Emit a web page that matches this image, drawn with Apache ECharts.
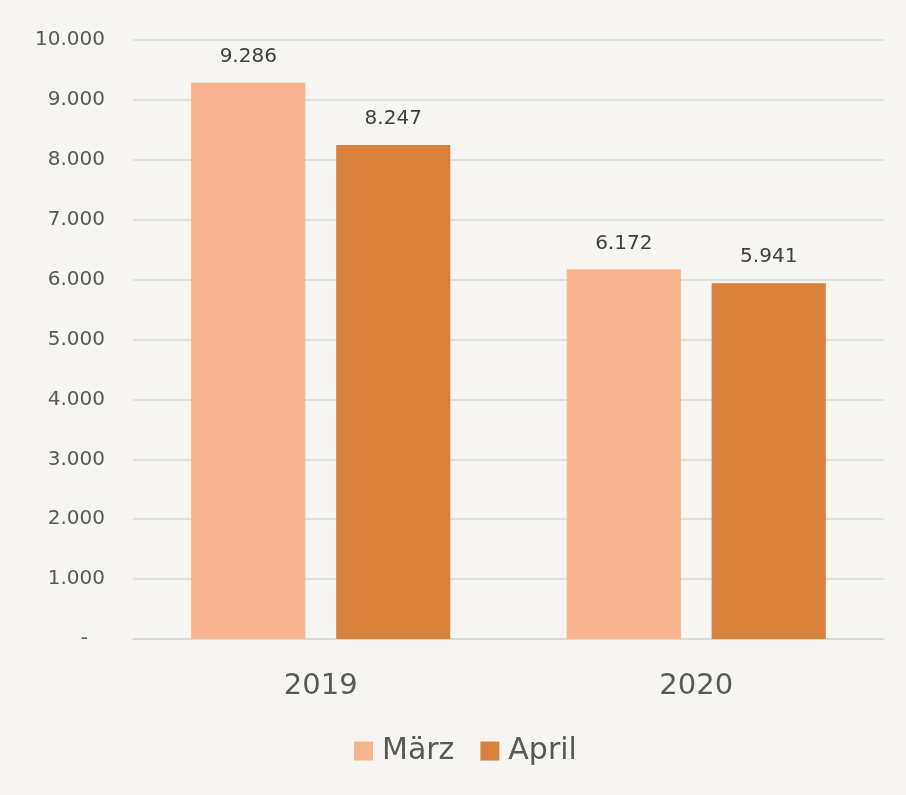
<!DOCTYPE html>
<html>
<head>
<meta charset="utf-8">
<script src="https://cdn.jsdelivr.net/npm/echarts@6/dist/echarts.min.js"></script>
<style>
  html, body { margin: 0; padding: 0; background: #f7f5f1; }
  #main { width: 906px; height: 795px; }
</style>
</head>
<body>
<div id="main"></div>
<script>
const years = ['2019', '2020'];
const maerz = [9286, 6172];
const april = [8247, 5941];
const seriesNames = ['März', 'April'];

const fmt = (v) => String(v).replace(/\B(?=(\d{3})+(?!\d))/g, '.');
// accounting style: zero shows as a dash, set in from the right
const axisFmt = (v) => (v === 0 ? '{d|-}' : fmt(v));

const font = 'DejaVu Sans';
const chart = echarts.init(document.getElementById('main'));
chart.setOption({
  backgroundColor: '#f7f5f1',
  textStyle: { fontFamily: font },
  grid: { left: 133, right: 22, top: 40, bottom: 156 },
  legend: {
    data: seriesNames,
    top: 736,
    left: 354,
    padding: 0,
    itemWidth: 19,
    itemHeight: 19,
    itemGap: 26,
    icon: 'rect',
    textStyle: { fontSize: 30, color: '#595959', fontFamily: font, padding: [0, 0, 0, 4] }
  },
  xAxis: {
    type: 'category',
    data: years,
    axisTick: { show: false },
    axisLine: { lineStyle: { color: '#d9d9d9', width: 1.5 } },
    axisLabel: { fontSize: 29, color: '#595959', margin: 33, fontFamily: font }
  },
  yAxis: {
    type: 'value',
    min: 0,
    max: 10000,
    interval: 1000,
    axisLine: { show: false },
    axisTick: { show: false },
    splitLine: { lineStyle: { color: '#d9d9d9', width: 1.5 } },
    axisLabel: {
      fontSize: 20, color: '#595959', margin: 28, formatter: axisFmt, fontFamily: font,
      rich: { d: { fontSize: 20, color: '#595959', fontFamily: font, padding: [0, 17, 0, 0] } }
    }
  },
  series: [
    {
      name: seriesNames[0],
      type: 'bar',
      data: maerz,
      barWidth: '30.4%',
      barGap: '27%',
      itemStyle: { color: '#f8b48f' },
      label: { show: true, position: 'top', distance: 16, fontSize: 20, color: '#404040', formatter: (p) => fmt(p.value) }
    },
    {
      name: seriesNames[1],
      type: 'bar',
      data: april,
      barWidth: '30.4%',
      barGap: '27%',
      itemStyle: { color: '#d9823d' },
      label: { show: true, position: 'top', distance: 16, fontSize: 20, color: '#404040', formatter: (p) => fmt(p.value) }
    }
  ]
});
</script>
</body>
</html>
